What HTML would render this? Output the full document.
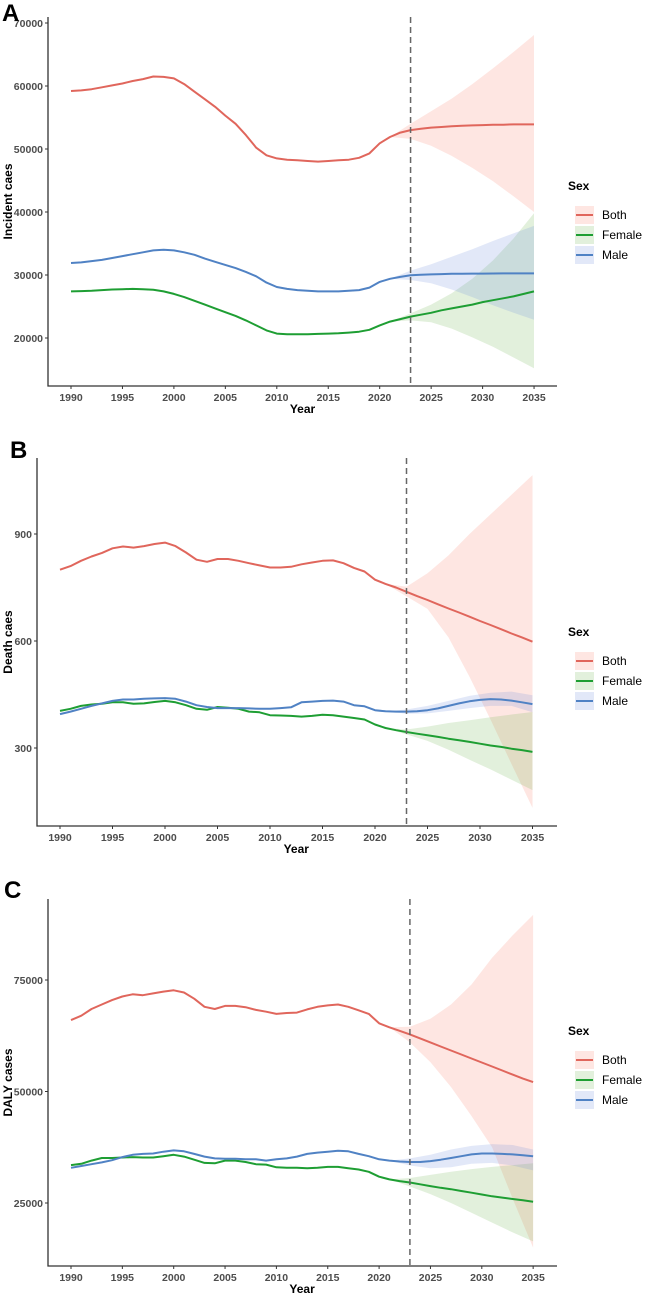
<!DOCTYPE html>
<html><head><meta charset="utf-8"><style>
html,body{margin:0;padding:0;background:#fff;}
svg{display:block;font-family:"Liberation Sans",Arial,sans-serif;}
</style></head><body>
<svg id="fig" width="645" height="1294" viewBox="0 0 645 1294"></svg>
<script>
const years = [];
for (let y = 1990; y <= 2035; y++) years.push(y);
const seriesNames = ["Both","Female","Male"];
const ribbonYears = [2021,2023,2025,2027,2029,2031,2033,2035];
const forecastStart = 2023;

// Panel A - Incident cases
const aTicks = [20000,30000,40000,50000,60000,70000];
const aBoth = [59200,59300,59500,59800,60100,60400,60800,61100,61500,61450,61200,60300,59100,57900,56700,55300,54000,52200,50200,49000,48500,48300,48200,48100,48000,48100,48200,48300,48600,49300,50900,51900,52600,53000,53200,53400,53500,53600,53700,53750,53800,53850,53850,53900,53900,53900];
const aFemale = [27400,27450,27500,27600,27700,27750,27800,27750,27650,27400,27000,26500,25900,25300,24700,24100,23500,22800,22000,21200,20700,20600,20600,20600,20650,20700,20750,20850,21000,21300,22000,22600,23000,23400,23700,24000,24400,24700,25000,25300,25700,26000,26300,26600,27000,27400];
const aMale = [31900,32000,32200,32400,32700,33000,33300,33600,33900,34000,33900,33600,33200,32600,32100,31600,31100,30500,29800,28800,28100,27800,27600,27500,27400,27400,27400,27500,27600,28000,28900,29400,29700,29950,30050,30100,30150,30200,30200,30220,30230,30240,30250,30250,30250,30250];
const aBothUp = [51900,54000,56000,58000,60300,62800,65400,68100];
const aBothLo = [51900,51600,50500,48900,47000,44900,42500,40000];
const aFemaleUp = [22600,23900,25300,27100,29400,32300,35800,39800];
const aFemaleLo = [22600,22800,22500,21500,20100,18600,16900,15200];
const aMaleUp = [29400,30700,31700,32900,34100,35400,36600,37800];
const aMaleLo = [29400,29200,28700,27700,26500,25200,24000,22900];

// Panel B - Death cases
const bTicks = [300,600,900];
const bBoth = [800,810,825,837,847,860,865,862,866,872,876,866,848,828,822,830,830,825,818,812,806,806,808,815,820,825,826,818,805,795,772,760,750,738,726,715,703,691,680,668,656,645,633,621,610,598];
const bFemale = [404,410,418,422,424,428,428,424,425,429,432,428,420,410,407,415,413,410,402,400,392,391,390,388,390,393,392,388,384,380,366,356,350,345,340,336,331,326,322,317,312,307,303,298,294,289];
const bMale = [395,402,410,418,425,432,436,436,438,439,440,438,430,420,415,412,412,412,411,410,410,412,414,428,430,432,433,430,420,417,406,403,402,402,403,406,411,418,425,431,435,437,436,433,428,423];
const bBothUp = [760,752,790,840,900,955,1010,1065];
const bBothLo = [760,725,690,610,500,380,255,132];
const bFemaleUp = [356,352,360,370,378,386,394,401];
const bFemaleLo = [356,338,320,295,267,240,211,182];
const bMaleUp = [403,408,418,432,446,455,458,448];
const bMaleLo = [403,396,397,404,412,418,418,400];

// Panel C - DALY cases
const cTicks = [25000,50000,75000];
const cBoth = [66000,67000,68500,69500,70500,71300,71800,71600,72000,72400,72700,72200,70800,69000,68500,69200,69200,68900,68300,67900,67400,67600,67700,68400,69000,69300,69500,69000,68200,67400,65300,64400,63600,62800,61900,61000,60100,59200,58300,57400,56500,55600,54700,53800,52900,52100];
const cFemale = [33500,33800,34500,35100,35100,35200,35300,35200,35200,35500,35800,35400,34700,34000,33900,34500,34500,34200,33700,33600,33000,32900,32900,32800,32900,33100,33100,32800,32500,32000,30900,30300,29900,29600,29200,28800,28400,28100,27700,27300,26900,26500,26200,25900,25600,25300];
const cMale = [32900,33300,33700,34100,34600,35300,35800,36000,36100,36500,36800,36600,36000,35400,35000,34900,34900,34800,34800,34500,34800,35000,35400,36000,36300,36500,36700,36600,36000,35500,34800,34500,34300,34200,34200,34400,34700,35100,35500,35900,36100,36100,36000,35900,35700,35500];
const cBothUp = [64400,64500,66300,69500,74000,80000,85000,89600];
const cBothLo = [64400,61000,56600,51000,44500,37500,26000,15000];
const cFemaleUp = [30300,30600,31300,32000,32600,33100,33500,33900];
const cFemaleLo = [30300,28700,27000,25000,22800,20600,18400,16400];
const cMaleUp = [34500,35000,35800,37000,37800,38200,38000,37000];
const cMaleLo = [34500,33400,32800,33000,33800,34000,33400,32300];

const xTicks = [1990,1995,2000,2005,2010,2015,2020,2025,2030,2035];
const lineCol = {Both:"#E0665C",Female:"#1E9E33",Male:"#5082C4"};
const fillCol = {Both:"rgba(248,130,110,0.2)",Female:"rgba(110,180,80,0.2)",Male:"rgba(110,140,220,0.2)"};
const NS = "http://www.w3.org/2000/svg";
const svg = document.getElementById("fig");
function mk(tag, attrs, parent, text){
  const e = document.createElementNS(NS, tag);
  for (const k in attrs) e.setAttribute(k, attrs[k]);
  if (text !== undefined) e.textContent = text;
  (parent||svg).appendChild(e);
  return e;
}

function panel(cfg){
  const g = mk("g", {});
  
  
  const X = yr => cfg.x0 + (yr - 1990) * cfg.xs;
  const Y = v => cfg.yRef + (cfg.vRef - v) * cfg.ys;
  cfg.series.forEach(s => {
    let d = "";
    ribbonYears.forEach((yr,i) => { d += (i? "L":"M") + X(yr).toFixed(1) + "," + Y(s.up[i]).toFixed(1); });
    for (let i = ribbonYears.length-1; i >= 0; i--) d += "L" + X(ribbonYears[i]).toFixed(1) + "," + Y(s.lo[i]).toFixed(1);
    const p = mk("path", {d: d + "Z", fill: fillCol[s.name], stroke: "none"}, g);
    
    
  });
  cfg.series.forEach(s => {
    const pts = years.map((yr,i) => X(yr).toFixed(1) + "," + Y(s.vals[i]).toFixed(1)).join(" ");
    const l = mk("polyline", {points: pts, fill: "none", stroke: lineCol[s.name], "stroke-width": 2, "stroke-linejoin": "round"}, g);
    
    
  });
  const v = mk("line", {x1: X(forecastStart), x2: X(forecastStart), y1: cfg.top, y2: cfg.bottom, stroke: "#666", "stroke-width": 1.5, "stroke-dasharray": "6,4"}, g);
  
  
  const ax = mk("path", {d: `M${cfg.left},${cfg.top}V${cfg.bottom}H${cfg.right}`, fill: "none", stroke: "#333", "stroke-width": 1.3}, g);
  
  
  cfg.yTicks.forEach(t => {
    const y = Y(t);
    mk("line", {x1: cfg.left-3, x2: cfg.left, y1: y, y2: y, stroke: "#333", "stroke-width": 1}, g);
    const tx = mk("text", {x: cfg.left-5, y: y+4, "text-anchor": "end", "font-size": 10.5, "font-weight": "bold", fill: "#4d4d4d"}, g, String(t));
    
    
  });
  xTicks.forEach(t => {
    const x = X(t);
    mk("line", {x1: x, x2: x, y1: cfg.bottom, y2: cfg.bottom+3, stroke: "#333", "stroke-width": 1}, g);
    const tx = mk("text", {x: x, y: cfg.bottom+15, "text-anchor": "middle", "font-size": 10.5, "font-weight": "bold", fill: "#4d4d4d"}, g, String(t));
    
    
  });
  const xt = mk("text", {x: (X(1990)+X(2035))/2, y: cfg.bottom+27, "text-anchor": "middle", "font-size": 12, "font-weight": "bold", fill: "#000"}, g, "Year");
  
  
  const cy = (cfg.top + cfg.bottom)/2;
  const yt = mk("text", {x: 0, y: 0, transform: `translate(${cfg.ytx},${cy}) rotate(-90)`, "text-anchor": "middle", "font-size": 12, "font-weight": "bold", fill: "#000"}, g, cfg.ylabel);
  
  
  const pl = mk("text", {x: cfg.lx, y: cfg.ly, "font-size": 24, "font-weight": "bold", fill: "#000"}, g, cfg.letter);
  
  
  const lg = mk("g", {}, g);
  
  
  const lt = mk("text", {x: 568, y: cfg.legY, "font-size": 12, "font-weight": "bold", fill: "#000"}, lg, "Sex");
  
  
  seriesNames.forEach((n,i) => {
    const ry = cfg.legY + 16 + i*20;
    const e = mk("g", {}, lg);
    
    
    mk("rect", {x: 575, y: ry, width: 19, height: 18, fill: fillCol[n]}, e);
    mk("line", {x1: 576, x2: 593, y1: ry+9, y2: ry+9, stroke: lineCol[n], "stroke-width": 2}, e);
    mk("text", {x: 602, y: ry+13, "font-size": 12, fill: "#000"}, e, n);
  });
}

panel({id:"incident", letter:"A", lx:2, ly:21, ylabel:"Incident caes", ytx:12,
  x0:71, xs:10.29, yRef:23, vRef:70000, ys:0.0063,
  left:48, right:557, top:17, bottom:386, yTicks:aTicks, legY:190,
  series:[{name:"Both",vals:aBoth,up:aBothUp,lo:aBothLo},{name:"Female",vals:aFemale,up:aFemaleUp,lo:aFemaleLo},{name:"Male",vals:aMale,up:aMaleUp,lo:aMaleLo}]});
panel({id:"death", letter:"B", lx:10, ly:458, ylabel:"Death caes", ytx:12,
  x0:60, xs:10.5, yRef:534, vRef:900, ys:107/300,
  left:37, right:557, top:458, bottom:826, yTicks:bTicks, legY:636,
  series:[{name:"Both",vals:bBoth,up:bBothUp,lo:bBothLo},{name:"Female",vals:bFemale,up:bFemaleUp,lo:bFemaleLo},{name:"Male",vals:bMale,up:bMaleUp,lo:bMaleLo}]});
panel({id:"daly", letter:"C", lx:4, ly:898, ylabel:"DALY cases", ytx:12,
  x0:71, xs:10.27, yRef:980, vRef:75000, ys:111.5/25000,
  left:48, right:557, top:899, bottom:1266, yTicks:cTicks, legY:1035,
  series:[{name:"Both",vals:cBoth,up:cBothUp,lo:cBothLo},{name:"Female",vals:cFemale,up:cFemaleUp,lo:cFemaleLo},{name:"Male",vals:cMale,up:cMaleUp,lo:cMaleLo}]});
</script>
</body></html>
